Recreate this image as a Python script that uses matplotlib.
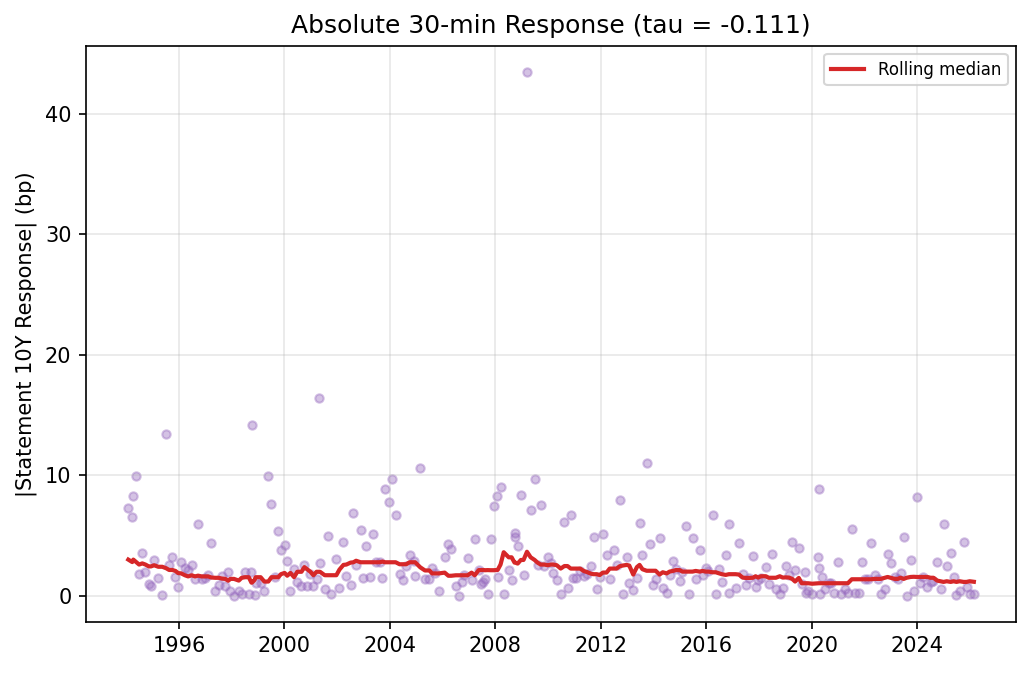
import matplotlib
matplotlib.use("Agg")
import matplotlib.pyplot as plt
import matplotlib.dates as mdates
import numpy as np
import pandas as pd

# meeting dates (decimal years) and absolute 30-min 10Y response (bp)
years = [
    1994.08, 1994.23, 1994.27, 1994.38, 1994.49, 1994.61, 1994.73, 1994.86, 1994.94,
    1995.06, 1995.22, 1995.37, 1995.52, 1995.63, 1995.75, 1995.87, 1995.97,
    1996.09, 1996.23, 1996.35, 1996.49, 1996.61, 1996.73, 1996.86, 1996.99,
    1997.11, 1997.23, 1997.38, 1997.51, 1997.62, 1997.76, 1997.87, 1997.95,
    1998.09, 1998.27, 1998.38, 1998.51, 1998.65, 1998.75, 1998.77, 1998.87, 1998.91,
    1999.10, 1999.24, 1999.39, 1999.51, 1999.64, 1999.77, 1999.87,
    2000.01, 2000.11, 2000.23, 2000.37, 2000.49, 2000.65, 2000.76, 2000.87, 2000.99,
    2001.10, 2001.22, 2001.32, 2001.35, 2001.53, 2001.66, 2001.78, 2001.97,
    2002.09, 2002.24, 2002.35, 2002.51, 2002.62, 2002.72, 2002.89, 2002.97,
    2003.11, 2003.23, 2003.38, 2003.48, 2003.61, 2003.72, 2003.82, 2003.95,
    2004.10, 2004.22, 2004.37, 2004.51, 2004.62, 2004.75, 2004.90, 2004.96,
    2005.15, 2005.33, 2005.50, 2005.60, 2005.72, 2005.86,
    2006.08, 2006.22, 2006.33, 2006.50, 2006.61, 2006.74, 2006.81, 2006.95,
    2007.10, 2007.22, 2007.37, 2007.47, 2007.54, 2007.62, 2007.71, 2007.82, 2007.94,
    2008.05, 2008.09, 2008.20, 2008.32, 2008.51, 2008.62, 2008.73, 2008.76, 2008.85, 2008.97,
    2009.07, 2009.20, 2009.34, 2009.49, 2009.60, 2009.72, 2009.86, 2009.98,
    2010.11, 2010.20, 2010.33, 2010.48, 2010.62, 2010.74, 2010.86, 2010.95,
    2011.06, 2011.22, 2011.35, 2011.48, 2011.63, 2011.73, 2011.85, 2011.96,
    2012.08, 2012.22, 2012.34, 2012.49, 2012.60, 2012.72, 2012.83, 2012.98,
    2013.08, 2013.23, 2013.37, 2013.47, 2013.58, 2013.74, 2013.85, 2013.97,
    2014.08, 2014.23, 2014.35, 2014.50, 2014.61, 2014.73, 2014.85, 2014.99,
    2015.10, 2015.22, 2015.33, 2015.48, 2015.60, 2015.75, 2015.86, 2015.98,
    2016.08, 2016.24, 2016.36, 2016.47, 2016.59, 2016.74, 2016.85, 2016.86,
    2017.11, 2017.24, 2017.38, 2017.50, 2017.62, 2017.77, 2017.87, 2017.97,
    2018.07, 2018.26, 2018.37, 2018.49, 2018.64, 2018.79, 2018.90,
    2019.02, 2019.14, 2019.26, 2019.37, 2019.51, 2019.62, 2019.74, 2019.79, 2019.86,
    2020.02, 2020.23, 2020.27, 2020.28, 2020.32, 2020.38, 2020.52, 2020.65, 2020.73, 2020.86, 2020.99,
    2021.11, 2021.25, 2021.37, 2021.52, 2021.63, 2021.78, 2021.90,
    2022.02, 2022.12, 2022.24, 2022.39, 2022.50, 2022.62, 2022.78, 2022.88, 2022.99,
    2023.15, 2023.26, 2023.37, 2023.49, 2023.60, 2023.75, 2023.87, 2023.98,
    2024.10, 2024.24, 2024.39, 2024.51, 2024.62, 2024.76, 2024.89,
    2025.00, 2025.12, 2025.27, 2025.38, 2025.49, 2025.61, 2025.76, 2025.87, 2025.99,
    2026.15,
]
response_bp = [
    7.32, 6.57, 8.31, 9.97, 1.80, 3.54, 1.99, 0.97, 0.86,
    3.01, 1.52, 0.11, 13.40, 2.60, 3.20, 1.55, 0.77,
    2.79, 2.29, 2.15, 2.54, 1.41, 5.94, 1.44, 1.50,
    1.74, 4.36, 0.42, 0.88, 1.68, 0.80, 2.02, 0.39,
    0.02, 0.42, 0.15, 2.01, 0.15, 2.01, 14.20, 0.05, 1.10,
    1.05, 0.42, 9.92, 7.65, 1.55, 5.41, 3.84,
    4.23, 2.87, 0.39, 2.20, 1.19, 0.80, 2.57, 0.80, 1.80,
    0.80, 1.40, 16.38, 2.73, 0.55, 4.97, 0.19, 3.04,
    0.69, 4.50, 1.63, 0.88, 6.90, 2.60, 5.44, 1.46,
    4.12, 1.55, 5.11, 2.79, 2.79, 1.52, 8.84, 7.82,
    9.72, 6.69, 1.80, 1.35, 2.46, 3.37, 2.90, 1.63,
    10.60, 1.38, 1.44, 2.29, 1.93, 0.39,
    3.20, 4.31, 3.92, 0.80, 0.02, 1.13, 1.71, 3.12,
    1.33, 4.70, 2.13, 0.97, 1.16, 1.44, 0.19, 4.70, 7.43,
    8.26, 1.60, 9.00, 0.14, 2.15, 1.30, 5.19, 4.92, 4.12, 8.34,
    1.71, 43.45, 7.10, 9.67, 2.60, 7.57, 2.49, 3.20,
    2.76, 1.88, 1.30, 0.14, 6.13, 0.69, 6.69, 1.46,
    1.46, 2.07, 1.66, 1.80, 2.46, 4.92, 0.61, 1.55,
    5.11, 3.40, 1.38, 3.84, 2.57, 7.93, 0.14, 3.20,
    1.05, 0.47, 1.46, 6.08, 3.37, 11.05, 4.28, 0.88,
    1.38, 4.83, 0.64, 0.28, 1.77, 2.87, 2.21, 1.22,
    1.96, 5.77, 0.14, 4.83, 1.38, 3.84, 1.74, 2.29,
    2.07, 6.69, 0.14, 2.21, 1.13, 3.43, 6.00, 0.28,
    0.69, 4.36, 1.80, 0.88, 1.52, 3.29, 0.77, 1.33,
    1.49, 2.38, 0.99, 3.45, 0.61, 0.14, 0.69,
    2.49, 1.74, 4.45, 2.13, 3.95, 0.97, 1.96, 0.28, 0.39,
    0.14, 3.20, 8.84, 2.29, 0.14, 1.55, 0.55, 1.05, 1.05, 0.28, 2.79,
    0.14, 0.61, 0.28, 5.52, 0.28, 0.28, 2.79,
    1.38, 1.38, 4.36, 1.74, 1.38, 0.14, 0.55, 3.45, 2.71,
    1.60, 1.44, 1.88, 4.86, 0.02, 2.96, 0.39, 8.18,
    1.05, 1.57, 0.75, 1.16, 1.27, 2.82, 0.55,
    5.94, 2.46, 3.54, 1.57, 0.11, 0.39, 4.50, 0.77, 0.14,
    0.19,
]

tau = -0.111
window = "1095D"  # ~3-year centred window

def to_date(y):
    yr = int(y)
    return pd.Timestamp(yr, 1, 1) + pd.Timedelta(days=(y - yr) * 365.25)

df = pd.DataFrame({"date": [to_date(y) for y in years], "resp": response_bp})
df = df.sort_values("date").set_index("date")
df["roll"] = df["resp"].rolling(window, center=True, min_periods=1).median()

fig, ax = plt.subplots(figsize=(6.867, 4.487), dpi=150)
fig.subplots_adjust(left=0.0835, right=0.9865, top=0.932, bottom=0.076)

ax.scatter(df.index, df["resp"], s=16, color="tab:purple", alpha=0.4)
ax.plot(df.index, df["roll"], color="tab:red", linewidth=2, label="Rolling median")

ax.xaxis.set_major_locator(mdates.YearLocator(4))
ax.xaxis.set_major_formatter(mdates.DateFormatter("%Y"))
ax.set_ylabel("|Statement 10Y Response| (bp)")
ax.set_title(f"Absolute 30-min Response (tau = {tau:.3f})")
ax.grid(True, alpha=0.3)
ax.legend(fontsize=8, loc="upper right")

fig.savefig("out.png", dpi=150)
